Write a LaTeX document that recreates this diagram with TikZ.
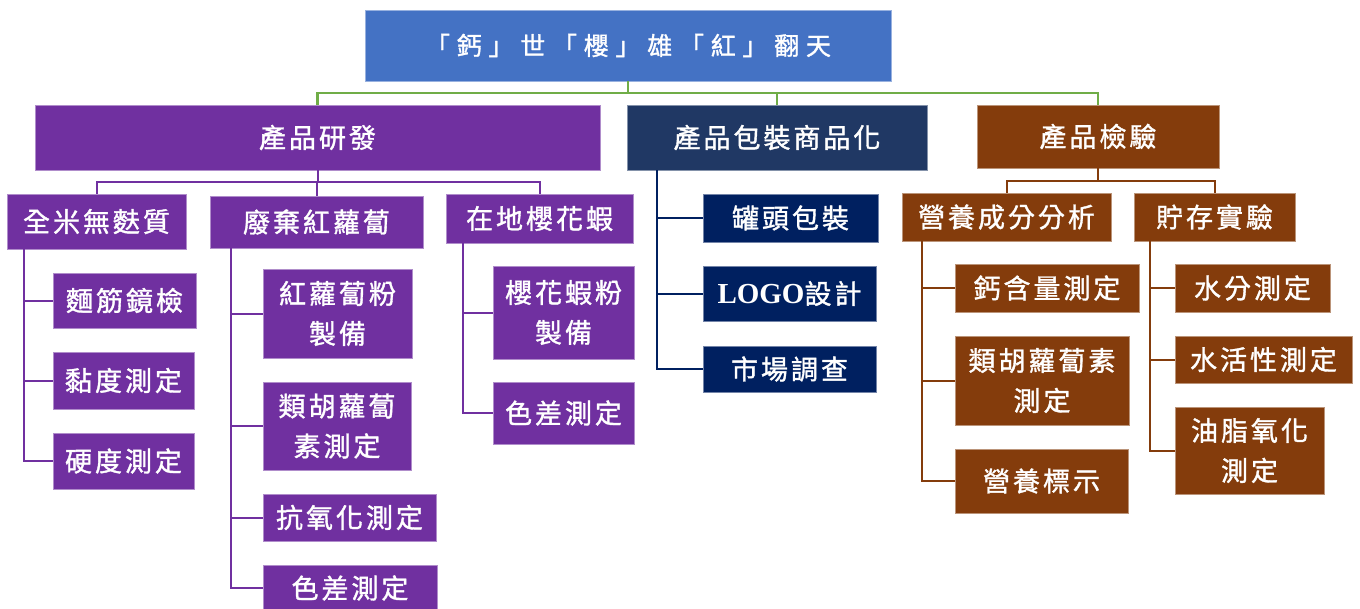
\documentclass[tikz,border=0pt]{standalone}
\usepackage{fontspec}
\newfontfamily\cjk[LetterSpace=11,FakeBold=1.3]{Noto Sans CJK TC}
\newfontfamily\cjkroot[LetterSpace=27,FakeBold=1.3]{Noto Sans CJK TC}
\newfontfamily\lserif{Liberation Serif}
\definecolor{rootblue}{HTML}{4472C4}
\definecolor{gline}{HTML}{70AD47}
\definecolor{purp}{HTML}{7030A0}
\definecolor{navyA}{HTML}{203864}
\definecolor{navyB}{HTML}{002060}
\definecolor{brn}{HTML}{843C0C}
\begin{document}
\begin{tikzpicture}[x=1pt,y=-1pt,
  bx/.style={rectangle, inner sep=0pt, text=white, align=center,
    font=\cjk\fontsize{27}{40}\selectfont, line width=0.8pt},
  pbox/.style={bx, fill=purp, draw=purp!55!white},
  nbox/.style={bx, fill=navyB, draw=navyB!55!white},
  bbox/.style={bx, fill=brn, draw=brn!55!white},
  wh/.style 2 args={minimum width=#1pt, minimum height=#2pt},
  glink/.style={draw=gline, line width=2.2pt},
  plink/.style={draw=purp, line width=2pt},
  nlink/.style={draw=navyB, line width=2pt},
  blink/.style={draw=brn, line width=2pt}]
\useasboundingbox (0,0) rectangle (1360,608);
\fill[white] (0,0) rectangle (1360,608);

% root
\node[bx, fill=rootblue, draw=rootblue!55!white, wh={526}{71},
  font=\cjkroot\fontsize{25}{30}\selectfont] (root) at (628,45.5) {「鈣」世「櫻」雄「紅」翻天};

% level 1
\node[pbox, wh={565}{65}] (rd) at (317.5,137.5) {產品研發};
\node[bx, fill=navyA, draw=navyA!55!white, wh={300}{65}] (pk) at (777,137.5) {產品包裝商品化};
\node[bbox, wh={242}{63}] (ts) at (1098,136.5) {產品檢驗};

\coordinate (gbar) at (0,93);
\draw[glink] (root.south) -- (root.south |- gbar) -| (rd.north);
\draw[glink] (root.south |- gbar) -| (pk.north);
\draw[glink] (root.south |- gbar) -| (ts.north);

% purple level 2
\node[pbox, wh={179}{55}] (a) at (96.5,221.5) {全米無麩質};
\node[pbox, wh={213}{52}] (b) at (316.5,222) {廢棄紅蘿蔔};
\node[pbox, wh={187}{49}] (c) at (539.5,218.5) {在地櫻花蝦};
\coordinate (pbar) at (0,182);
\draw[plink] (rd.south) -- (rd.south |- pbar) -| (a.north);
\draw[plink] (rd.south |- pbar) -| (b.north);
\draw[plink] (rd.south |- pbar) -| (c.north);

% 全米無麩質 leaves
\node[pbox, wh={143}{55}] (a1) at (124.5,300.5) {麵筋鏡檢};
\node[pbox, wh={141}{57}] (a2) at (123.5,380.5) {黏度測定};
\node[pbox, wh={141}{56}] (a3) at (123.5,461) {硬度測定};
\draw[plink] ([xshift=17pt]a.south west) |- (a1.west);
\draw[plink] ([xshift=17pt]a.south west) |- (a2.west);
\draw[plink] ([xshift=17pt]a.south west) |- (a3.west);

% 廢棄紅蘿蔔 leaves
\node[pbox, wh={149}{89}] (b1) at (337.5,313.5) {紅蘿蔔粉\\製備};
\node[pbox, wh={148}{88}] (b2) at (337,426) {類胡蘿蔔\\素測定};
\node[pbox, wh={173}{47}] (b3) at (349.5,517.5) {抗氧化測定};
\node[pbox, wh={174}{46}] (b4) at (350,588) {色差測定};
\draw[plink] ([xshift=21pt]b.south west) |- (b1.west);
\draw[plink] ([xshift=21pt]b.south west) |- (b2.west);
\draw[plink] ([xshift=21pt]b.south west) |- (b3.west);
\draw[plink] ([xshift=21pt]b.south west) |- (b4.west);

% 在地櫻花蝦 leaves
\node[pbox, wh={141}{93}] (c1) at (563.5,312.5) {櫻花蝦粉\\製備};
\node[pbox, wh={141}{62}] (c2) at (563.5,413) {色差測定};
\draw[plink] ([xshift=17pt]c.south west) |- (c1.west);
\draw[plink] ([xshift=17pt]c.south west) |- (c2.west);

% packaging leaves
\node[nbox, wh={175}{48}] (p1) at (790.5,218) {罐頭包裝};
\node[nbox, wh={173}{55}] (p2) at (789.5,293.5) {{\lserif\bfseries\fontsize{29}{40}\selectfont LOGO}設計};
\node[nbox, wh={173}{46}] (p3) at (789.5,369) {市場調查};
\draw[nlink] ([xshift=30pt]pk.south west) |- (p1.west);
\draw[nlink] ([xshift=30pt]pk.south west) |- (p2.west);
\draw[nlink] ([xshift=30pt]pk.south west) |- (p3.west);

% testing level 2
\node[bbox, wh={209}{48}] (d) at (1006.5,217) {營養成分分析};
\node[bbox, wh={161}{48}] (e) at (1214.5,217) {貯存實驗};
\coordinate (bbar) at (0,181);
\draw[blink] (ts.south) -- (ts.south |- bbar) -| (d.north);
\draw[blink] (ts.south |- bbar) -| (e.north);

% 營養成分分析 leaves
\node[bbox, wh={184}{48}] (d1) at (1047,288) {鈣含量測定};
\node[bbox, wh={174}{89}] (d2) at (1042,380.5) {類胡蘿蔔素\\測定};
\node[bbox, wh={173}{64}] (d3) at (1041.5,481) {營養標示};
\draw[blink] ([xshift=20pt]d.south west) |- (d1.west);
\draw[blink] ([xshift=20pt]d.south west) |- (d2.west);
\draw[blink] ([xshift=20pt]d.south west) |- (d3.west);

% 貯存實驗 leaves
\node[bbox, wh={155}{48}] (e1) at (1252.5,288) {水分測定};
\node[bbox, wh={177}{47}] (e2) at (1263.5,359.5) {水活性測定};
\node[bbox, wh={149}{87}] (e3) at (1249.5,450.5) {油脂氧化\\測定};
\draw[blink] ([xshift=16pt]e.south west) |- (e1.west);
\draw[blink] ([xshift=16pt]e.south west) |- (e2.west);
\draw[blink] ([xshift=16pt]e.south west) |- (e3.west);
\end{tikzpicture}
\end{document}
